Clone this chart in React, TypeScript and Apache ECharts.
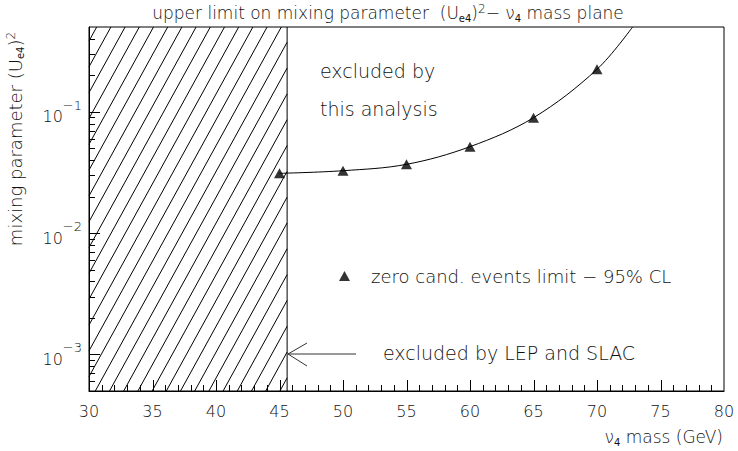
import { useEffect, useRef } from "react";
import * as echarts from "echarts";

// 95% CL upper limits on (U_e4)^2 from zero candidate events
const massGeV = [45, 50, 55, 60, 65, 70];
const mixingLimit = [0.0311, 0.0327, 0.0369, 0.0516, 0.0894, 0.224];
// where the fitted curve leaves the frame at the top
const curveEnd = [72.8, 0.5];
// mass region already excluded by LEP and SLAC
const lepLimitGeV = 45.6;

const xMin = 30;
const xMax = 80;
const xStep = 5;
const xMinorStep = 1;
const yMin = 5e-4;
const yMax = 0.5;
const yMajorTicks = [1e-3, 1e-2, 1e-1];
const yMinorTicks = [
  6e-4, 7e-4, 8e-4, 9e-4,
  2e-3, 3e-3, 4e-3, 5e-3, 6e-3, 7e-3, 8e-3, 9e-3,
  2e-2, 3e-2, 4e-2, 5e-2, 6e-2, 7e-2, 8e-2, 9e-2,
  2e-1, 3e-1, 4e-1,
];

const legendName = "zero cand. events limit \u2212 95% CL";

const FONT = "DejaVu Sans";
const WEIGHT = 200;
const INK = "#111";

export default function App() {
  const ref = useRef<HTMLDivElement>(null);

  useEffect(() => {
    const chart = echarts.init(ref.current!, null, { renderer: "svg" });

    const points = massGeV.map((m, i) => [m, mixingLimit[i]]);
    const curve = [...points, curveEnd];

    // "/" hatching of the LEP/SLAC band: each line is x = top - slope * (y - yt)
    const renderHatch = (params: any, api: any) => {
      const cs = params.coordSys;
      const xl = api.coord([api.value(0), yMax])[0];
      const xr = api.coord([api.value(1), yMax])[0];
      const yt = cs.y;
      const yb = cs.y + cs.height;
      const style = { stroke: "#000", lineWidth: 1 };
      const children: any[] = [];
      const slope = 0.55;
      const gap = 14.2;
      const phase = 7.7;
      const last = xr + slope * (yb - yt);
      for (let top = xl + phase; top <= last; top += gap) {
        const y1 = Math.max(yt, yt + (top - xr) / slope);
        const y2 = Math.min(yb, yt + (top - xl) / slope);
        if (y2 <= y1) continue;
        children.push({
          type: "line",
          shape: { x1: top - slope * (y1 - yt), y1, x2: top - slope * (y2 - yt), y2 },
          style,
        });
      }
      children.push({ type: "line", shape: { x1: xr, y1: yt, x2: xr, y2: yb }, style });
      return { type: "group", children };
    };

    const textBase = { fontFamily: FONT, fontWeight: WEIGHT, fill: INK };
    const richSub = {
      fontSize: 10,
      fontFamily: FONT,
      fontWeight: 400,
      fill: INK,
      verticalAlign: "bottom",
      lineHeight: 21,
    };
    const richSup = {
      fontSize: 12,
      fontFamily: FONT,
      fontWeight: WEIGHT,
      fill: INK,
      verticalAlign: "top",
      lineHeight: 21,
    };

    chart.setOption({
      animation: false,
      backgroundColor: "#fff",
      textStyle: { fontFamily: FONT, fontWeight: WEIGHT, color: INK },
      grid: {
        left: 89,
        top: 27,
        width: 635,
        height: 364,
        show: true,
        borderColor: "#000",
        borderWidth: 1,
        backgroundColor: "transparent",
      },
      legend: {
        data: [{ name: legendName, icon: "triangle" }],
        left: 334,
        top: 262,
        itemWidth: 11,
        itemHeight: 10,
        selectedMode: false,
        textStyle: {
          fontFamily: FONT,
          fontWeight: WEIGHT,
          fontSize: 18,
          color: INK,
          padding: [0, 0, 0, 16],
        },
      },
      xAxis: {
        type: "value",
        min: xMin,
        max: xMax,
        interval: xStep,
        axisLine: { show: true, lineStyle: { color: "#000" } },
        axisTick: { show: false },
        minorTick: { show: false },
        splitLine: { show: false },
        axisLabel: { fontSize: 16, margin: 12, color: INK },
      },
      yAxis: {
        type: "log",
        min: yMin,
        max: yMax,
        position: "left",
        axisLine: { show: true, lineStyle: { color: "#000" } },
        axisTick: { show: false },
        splitLine: { show: false },
        axisLabel: {
          customValues: yMajorTicks,
          margin: 7,
          formatter: (v: number) =>
            `{b|10}{s|\u2212${Math.round(-Math.log10(v))}}`,
          rich: {
            b: { fontSize: 16, color: INK, lineHeight: 26, verticalAlign: "bottom" },
            s: { fontSize: 13, color: INK, lineHeight: 14, verticalAlign: "top" },
          },
        },
      },
      series: [
        {
          type: "custom",
          name: "LEP and SLAC",
          renderItem: renderHatch,
          data: [[xMin, lepLimitGeV]],
          encode: { x: [0, 1] },
          silent: true,
          z: 1,
        },
        {
          type: "line",
          name: "fit",
          data: curve,
          smooth: 0.35,
          showSymbol: false,
          lineStyle: { color: "#000", width: 1 },
          silent: true,
          z: 2,
        },
        {
          type: "scatter",
          name: legendName,
          data: points,
          symbol: "triangle",
          symbolSize: [11, 10],
          itemStyle: { color: "#000" },
          z: 3,
        },
      ],
    });

    // inner tick marks, placed through the grid's own scales
    const toPx = (x: number, y: number) =>
      chart.convertToPixel({ gridIndex: 0 }, [x, y]) as number[];
    const frameLeft = toPx(xMin, yMin)[0];
    const frameBottom = toPx(xMin, yMin)[1];
    const tickStyle = { stroke: "#000", lineWidth: 1 };
    const ticks: any[] = [];
    for (let m = xMin + xMinorStep; m < xMax; m += xMinorStep) {
      const px = Math.round(toPx(m, yMax)[0]) + 0.5;
      const len = m % xStep === 0 ? 11 : 6;
      ticks.push({
        type: "line",
        z: 10,
        shape: { x1: px, y1: frameBottom, x2: px, y2: frameBottom - len },
        style: tickStyle,
      });
    }
    const yTick = (v: number, len: number) => {
      const py = Math.round(toPx(xMin, v)[1]) + 0.5;
      ticks.push({
        type: "line",
        z: 10,
        shape: { x1: frameLeft, y1: py, x2: frameLeft + len, y2: py },
        style: tickStyle,
      });
    };
    yMajorTicks.forEach((v) => yTick(v, 11));
    yMinorTicks.forEach((v) => yTick(v, 6));

    chart.setOption({
      graphic: [
        ...ticks,
        {
          type: "text",
          x: 388,
          y: 13,
          style: {
            ...textBase,
            text: "upper limit on mixing parameter  (U{sub|e4}){sup|2}\u2212 \u03bd{sub|4} mass plane",
            fontSize: 17,
            align: "center",
            verticalAlign: "middle",
            rich: { sub: richSub, sup: richSup },
          },
        },
        {
          type: "text",
          x: 15,
          y: 139,
          rotation: Math.PI / 2,
          style: {
            ...textBase,
            text: "mixing parameter (U{sub|e4}){sup|2}",
            fontSize: 18,
            align: "center",
            verticalAlign: "middle",
            rich: { sub: richSub, sup: richSup },
          },
        },
        {
          type: "text",
          x: 723,
          y: 437,
          style: {
            ...textBase,
            text: "\u03bd{sub|4} mass (GeV)",
            fontSize: 17,
            align: "right",
            verticalAlign: "middle",
            rich: { sub: richSub },
          },
        },
        {
          type: "text",
          x: 320,
          y: 71,
          style: { ...textBase, text: "excluded by", fontSize: 19, verticalAlign: "middle" },
        },
        {
          type: "text",
          x: 320,
          y: 109,
          style: { ...textBase, text: "this analysis", fontSize: 19, verticalAlign: "middle" },
        },
        {
          type: "text",
          x: 383,
          y: 353,
          style: { ...textBase, text: "excluded by LEP and SLAC", fontSize: 19, verticalAlign: "middle" },
        },
        {
          type: "line",
          shape: { x1: 288, y1: 354, x2: 356, y2: 354 },
          style: { stroke: "#333", lineWidth: 1 },
        },
        {
          type: "polyline",
          shape: { points: [[307, 343], [288, 354], [307, 366]] },
          style: { stroke: "#333", lineWidth: 1, fill: "none" },
        },
      ],
    });

    return () => chart.dispose();
  }, []);

  return (
    <div
      ref={ref}
      style={{
        position: "fixed",
        left: 0,
        top: 0,
        width: 738,
        height: 451,
        background: "#fff",
      }}
    />
  );
}
